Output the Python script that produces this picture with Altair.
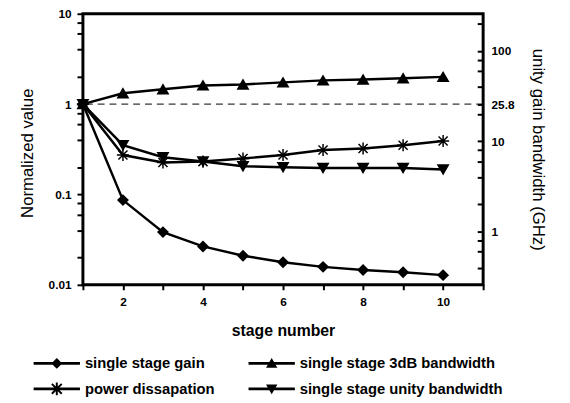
import altair as alt
import pandas as pd

stages = [1, 2, 3, 4, 5, 6, 7, 8, 9, 10]
series_names = [
    "single stage gain",
    "single stage 3dB bandwidth",
    "power dissapation",
    "single stage unity bandwidth",
]
gain = [1, 0.0866, 0.0383, 0.0266, 0.0210, 0.0178, 0.0158, 0.0146, 0.0138, 0.0128]
bw3db = [1, 1.32, 1.46, 1.61, 1.65, 1.74, 1.83, 1.87, 1.93, 2.0]
power = [1, 0.273, 0.226, 0.231, 0.250, 0.273, 0.310, 0.323, 0.351, 0.390]
unity = [1, 0.351, 0.258, 0.232, 0.205, 0.200, 0.196, 0.196, 0.196, 0.189]

left_ticks = [0.01, 0.02, 0.04, 0.06, 0.08, 0.1, 0.2, 0.4, 0.6, 0.8,
              1, 2, 4, 6, 8, 10]
right_label_values = [1, 10, 25.8, 100]
right_ticks = [0.4, 0.6, 0.8, 1, 2, 4, 6, 8, 10, 20, 25.8, 40, 60, 80, 100, 200]
x_ticks = [1, 2, 3, 4, 5, 6, 7, 8, 9, 10, 11]
ref_left = [1]
ref_right = [25.8]

df = pd.DataFrame({
    "stage": stages * 4,
    "value": gain + bw3db + power + unity,
    "series": [s for s in series_names for _ in stages],
})

FONT = "Liberation Sans"

star = "M-1,0H1M0,-1V1M-0.75,-0.75L0.75,0.75M-0.75,0.75L0.75,-0.75"
plot_shapes = ["diamond", "triangle-up", star, "triangle-down"]
plot_sizes = [100, 110, 150, 110]

# legend glyphs: filled outlines only (line segment drawn as a thin bar)
bar = "M-4.7,-0.27L4.7,-0.27L4.7,0.27L-4.7,0.27Z"
legend_shapes = [
    bar + "M0,-1.1L1.1,0L0,1.1L-1.1,0Z",
    bar + "M0,-1.1L1.15,0.9L-1.15,0.9Z",
    bar + "M-0.2,-1.3L0.2,-1.3L0.2,1.3L-0.2,1.3Z"
    + "M-0.86,-1.14L1.14,0.86L0.86,1.14L-1.14,-0.86Z"
    + "M-1.14,0.86L0.86,-1.14L1.14,-0.86L-0.86,1.14Z",
    bar + "M0,1.1L-1.15,-0.9L1.15,-0.9Z",
]

left_scale = alt.Scale(type="log", domain=[0.01, 10], nice=False)
right_scale = alt.Scale(type="log", domain=[0.258, 258], nice=False)

x_enc = alt.X(
    "stage:Q",
    scale=alt.Scale(domain=[1, 11], nice=False, zero=False),
    axis=alt.Axis(
        values=x_ticks,
        labelExpr="datum.value % 2 == 0 ? datum.label : ''",
        title="stage number",
        titleFontSize=16, titleFontWeight="bold", titleFont=FONT,
        titleY=51, titleBaseline="alphabetic",
        labelFontSize=12, labelFontWeight="bold", labelFont=FONT,
        labelPadding=7, tickSize=5, tickWidth=2, tickColor="black",
        domain=False, grid=False, labelColor="black", titleColor="black",
    ),
)

left_axis = alt.Axis(
    orient="left",
    values=left_ticks,
    labelExpr="datum.value == 10 ? '10' : datum.value == 1 ? '1' : datum.value == 0.1 ? '0.1' : datum.value == 0.01 ? '0.01' : ''",
    title="Normalized value",
    titleFontSize=17, titleFontWeight="normal", titleFont=FONT,
    titleAngle=-90, titleX=-51, titleY=141, titleBaseline="alphabetic",
    titleAlign="center",
    labelFontSize=12, labelFontWeight="bold", labelFont=FONT,
    labelPadding=6, tickSize=6, tickWidth=2, tickColor="black",
    domain=False, grid=False, labelColor="black", titleColor="black",
)

lines = alt.Chart(df).mark_line(color="black", strokeWidth=2.5).encode(
    x=x_enc,
    y=alt.Y("value:Q", scale=left_scale, axis=left_axis),
    detail="series:N",
)

point_layers = []
for name, shp, sz in zip(series_names, plot_shapes, plot_sizes):
    point_layers.append(
        alt.Chart(df).transform_filter(
            alt.datum.series == name
        ).mark_point(
            filled=True, fill="black", stroke="black", strokeWidth=1.5,
            opacity=1, shape=shp, size=sz,
        ).encode(
            x=x_enc,
            y=alt.Y("value:Q", scale=left_scale, axis=None),
        )
    )

legend_layer = alt.Chart(df).mark_point(
    filled=True, color="black", opacity=0
).encode(
    x=x_enc,
    y=alt.Y("value:Q", scale=left_scale, axis=None),
    shape=alt.Shape(
        "series:N",
        scale=alt.Scale(domain=series_names, range=legend_shapes),
        legend=alt.Legend(
            title=None, orient="none", legendX=-51, legendY=347,
            columns=2, direction="horizontal", padding=0,
            labelFontSize=15, labelFontWeight="bold", labelFont=FONT,
            labelColor="black", labelLimit=400,
            symbolSize=100, symbolStrokeWidth=0,
            symbolFillColor="black",
            symbolOpacity=1, symbolOffset=17, labelOffset=21,
            columnPadding=33, rowPadding=10,
        ),
    ),
)

dash_left = alt.Chart(pd.DataFrame({"ref": ref_left})).mark_rule(
    color="black", strokeWidth=1, strokeDash=[7, 5]
).encode(y=alt.Y("ref:Q", scale=left_scale, axis=None))

right_labels = alt.Chart(pd.DataFrame({"ref": ref_right})).mark_rule(
    color="black", strokeWidth=1, strokeOpacity=0
).encode(
    y=alt.Y(
        "ref:Q", scale=right_scale,
        axis=alt.Axis(
            orient="right",
            values=right_label_values,
            labelExpr="datum.value == 25.8 ? '25.8' : datum.value == 100 ? '100' : datum.value == 10 ? '10' : '1'",
            ticks=False, domain=False, grid=False,
            labelPadding=8, labelFontSize=12, labelFontWeight="bold",
            labelFont=FONT, labelColor="black",
            title="unity gain bandwidth (GHz)",
            titleFontSize=17, titleFontWeight="normal", titleFont=FONT,
            titleAngle=90, titleX=50, titleY=137.5, titleBaseline="alphabetic",
            titleAlign="center", titleColor="black",
        ),
    )
)

right_tick_layer = alt.Chart(pd.DataFrame({"ref": ref_right})).mark_rule(
    color="black", strokeWidth=1, strokeOpacity=0
).encode(
    y=alt.Y(
        "ref:Q", scale=right_scale,
        axis=alt.Axis(
            orient="right", offset=-6,
            values=right_ticks,
            labels=False, domain=False, grid=False, title=None,
            tickSize=6, tickWidth=2, tickColor="black",
        ),
    )
)

chart = alt.layer(
    dash_left, lines, *point_layers, legend_layer, right_labels, right_tick_layer
).resolve_scale(
    y="independent"
).properties(
    width=406, height=275,
    autosize=alt.AutoSizeParams(type="none"),
    padding={"left": 76, "top": 3, "right": 80, "bottom": 112},
).configure(
    font=FONT, background="white"
).configure_view(
    stroke="black", strokeWidth=3
)

chart.save("out.html", embed_options={"renderer": "svg", "actions": False})
